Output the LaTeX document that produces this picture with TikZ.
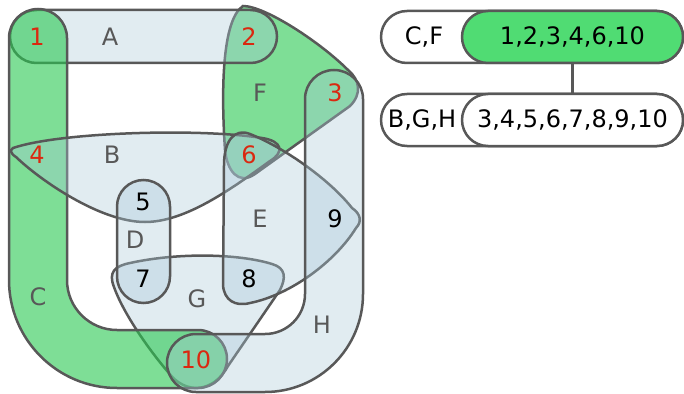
\documentclass[tikz,border=0pt]{standalone}
\usepackage{fontspec}
\setmainfont{DejaVu Sans}
\definecolor{edgegray}{RGB}{88,88,88}
\definecolor{setblue}{RGB}{169,200,216}
\definecolor{setgreen}{RGB}{40,200,80}
\definecolor{numred}{RGB}{218,40,16}
\definecolor{tablegreen}{RGB}{80,220,115}
\begin{document}
\begin{tikzpicture}
[x=1pt, y=-1pt,
 every node/.style={font=\fontsize{24}{28}\selectfont, inner sep=0pt},
 blueset/.style={draw=edgegray, line width=2.5pt, fill=setblue, fill opacity=0.35},
 greenset/.style={draw=edgegray, line width=2.5pt, fill=setgreen, fill opacity=0.6},
 hot/.style={text=numred},
 plain/.style={text=black},
 setname/.style={text=edgegray},
 pill/.style={draw=edgegray, line width=2.5pt, rounded corners=26pt, minimum height=52pt}]
\useasboundingbox (0,0) rectangle (684,393);

% hyperedges, back to front
% F
\draw[greenset] (225,150) .. controls (221,90) and (222,20) .. (243,6)
  .. controls (265,6) and (320,42) .. (348,70)
  .. controls (360,80) and (362,94) .. (350,106)
  -- (255,174) .. controls (238,186) and (227,170) .. cycle;
% A
\draw[blueset, rounded corners=26.5pt] (10,10) rectangle (277,63);
% G
\draw[blueset] (114,287) .. controls (108,272) and (115,266) .. (130,263)
  .. controls (180,252) and (240,254) .. (272,264)
  .. controls (286,268) and (286,278) .. (280,290)
  -- (228,366) .. controls (214,392) and (186,396) .. (168,372)
  .. controls (145,345) and (122,310) .. cycle;
% C
\draw[greenset] (9,38) arc[start angle=180, end angle=0, radius=29pt]
  -- (67,280) arc[start angle=180, end angle=270, radius=50pt]
  -- (198,330) arc[start angle=90, end angle=-90, radius=29pt]
  -- (117,388) arc[start angle=270, end angle=180, radius=108pt]
  -- cycle;
% B
\draw[blueset] (13,148) .. controls (60,132) and (200,128) .. (262,138)
  .. controls (282,141) and (285,152) .. (270,161)
  .. controls (230,190) and (185,222) .. (145,222)
  .. controls (100,222) and (40,180) .. (16,157)
  .. controls (10,153) and (10,150) .. cycle;
% D
\draw[blueset, rounded corners=26.5pt] (117,180) rectangle (170,303);
% E
\draw[blueset] (224,165) .. controls (224,140) and (235,128) .. (250,134)
  .. controls (285,148) and (330,180) .. (352,208)
  .. controls (361,214) and (362,222) .. (356,228)
  .. controls (335,262) and (290,295) .. (250,303)
  .. controls (235,307) and (224,300) .. (223,285)
  -- cycle;
% H
\draw[blueset] (305,99) arc[start angle=180, end angle=0, radius=29pt]
  -- (363,294) arc[start angle=0, end angle=-90, radius=98pt]
  -- (196,392) arc[start angle=-90, end angle=-270, radius=29pt]
  -- (265,334) arc[start angle=270, end angle=360, radius=40pt]
  -- cycle;

% vertices
\node[hot] (n1) at (37,37) {1};
\node[hot] (n2) at (249,37) {2};
\node[hot] (n3) at (335,93) {3};
\node[hot] (n4) at (37,155) {4};
\node[plain] (n5) at (143,202) {5};
\node[hot] (n6) at (249,155) {6};
\node[plain] (n7) at (143,279) {7};
\node[plain] (n8) at (249,279) {8};
\node[plain] (n9) at (335,219) {9};
\node[hot] (n10) at (196,360) {10};

% edge names
\node[setname] (eA) at (110,37) {A};
\node[setname] (eB) at (112,155) {B};
\node[setname] (eC) at (38,297) {C};
\node[setname] (eD) at (135,240) {D};
\node[setname] (eE) at (260,219) {E};
\node[setname] (eF) at (260,93) {F};
\node[setname] (eG) at (197,299) {G};
\node[setname] (eH) at (322,325) {H};

% component table
\node[pill, fill=white, minimum width=302pt] (rowcf) at (532,37) {};
\node[pill, fill=tablegreen, minimum width=221pt] (setcf) at (572.5,37) {1,2,3,4,6,10};
\node (keycf) at (424,37) {C,F};
\node[pill, fill=white, minimum width=302pt] (rowbgh) at (532,120) {};
\node[pill, fill=white, minimum width=221pt] (setbgh) at (572.5,120) {3,4,5,6,7,8,9,10};
\node (keybgh) at (422,120) {B,G,H};
\draw[edgegray, line width=2.5pt] (setcf.south) -- (setbgh.north);
\end{tikzpicture}
\end{document}
